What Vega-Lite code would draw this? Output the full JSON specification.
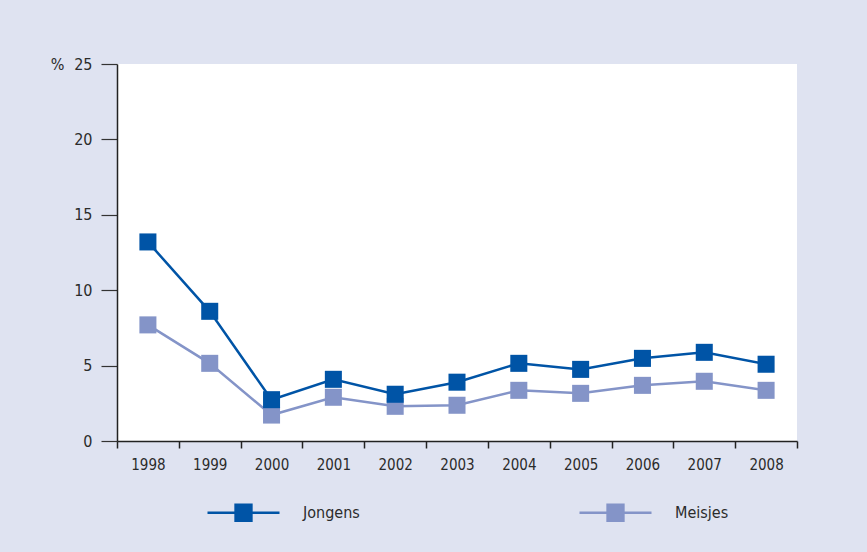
{
  "$schema": "https://vega.github.io/schema/vega-lite/v6.json",
  "width": 680,
  "height": 377,
  "autosize": {"type": "none"},
  "padding": {"left": 117, "top": 64, "right": 70, "bottom": 111},
  "background": "#dfe3f1",
  "config": {
    "view": {"fill": "white", "stroke": null},
    "font": "DejaVu Sans Condensed, Liberation Sans, sans-serif"
  },
  "data": {
    "values": [
      {"jaar": "1998", "groep": "Meisjes", "pct": 7.7},
      {"jaar": "1999", "groep": "Meisjes", "pct": 5.15},
      {"jaar": "2000", "groep": "Meisjes", "pct": 1.72},
      {"jaar": "2001", "groep": "Meisjes", "pct": 2.9},
      {"jaar": "2002", "groep": "Meisjes", "pct": 2.3},
      {"jaar": "2003", "groep": "Meisjes", "pct": 2.37},
      {"jaar": "2004", "groep": "Meisjes", "pct": 3.36},
      {"jaar": "2005", "groep": "Meisjes", "pct": 3.16},
      {"jaar": "2006", "groep": "Meisjes", "pct": 3.69},
      {"jaar": "2007", "groep": "Meisjes", "pct": 3.96},
      {"jaar": "2008", "groep": "Meisjes", "pct": 3.36},
      {"jaar": "1998", "groep": "Jongens", "pct": 13.2},
      {"jaar": "1999", "groep": "Jongens", "pct": 8.6},
      {"jaar": "2000", "groep": "Jongens", "pct": 2.74},
      {"jaar": "2001", "groep": "Jongens", "pct": 4.09},
      {"jaar": "2002", "groep": "Jongens", "pct": 3.1},
      {"jaar": "2003", "groep": "Jongens", "pct": 3.9},
      {"jaar": "2004", "groep": "Jongens", "pct": 5.15},
      {"jaar": "2005", "groep": "Jongens", "pct": 4.75},
      {"jaar": "2006", "groep": "Jongens", "pct": 5.48},
      {"jaar": "2007", "groep": "Jongens", "pct": 5.88},
      {"jaar": "2008", "groep": "Jongens", "pct": 5.09}
    ]
  },
  "encoding": {
    "x": {
      "field": "jaar",
      "type": "ordinal",
      "scale": {"type": "band", "paddingInner": 0, "paddingOuter": 0},
      "axis": {
        "title": null,
        "labelAngle": 0,
        "tickBand": "extent",
        "tickSize": 7,
        "tickColor": "#222",
        "domainColor": "#222",
        "domainWidth": 1.5,
        "tickWidth": 1.5,
        "labelPadding": 9,
        "labelFontSize": 15,
        "labelColor": "#2b2b2b"
      }
    },
    "y": {
      "field": "pct",
      "type": "quantitative",
      "scale": {"domain": [0, 25], "nice": false},
      "axis": {
        "values": [0, 5, 10, 15, 20, 25],
        "grid": false,
        "tickSize": 16,
        "tickColor": "#333",
        "tickWidth": 1.2,
        "domainColor": "#222",
        "domainWidth": 1.5,
        "labelPadding": 9,
        "labelFontSize": 16,
        "labelColor": "#2b2b2b",
        "title": "%",
        "titleAngle": 0,
        "titleX": -60,
        "titleY": 0,
        "titleAlign": "center",
        "titleBaseline": "middle",
        "titleFontSize": 16,
        "titleFontWeight": "normal",
        "titleColor": "#2b2b2b"
      }
    },
    "color": {
      "field": "groep",
      "type": "nominal",
      "sort": ["Jongens", "Meisjes"],
      "scale": {"domain": ["Jongens", "Meisjes"], "range": ["#0054a6", "#8494c8"]},
      "legend": {
        "title": null,
        "orient": "none",
        "legendX": 89,
        "legendY": 411,
        "direction": "horizontal",
        "columns": 2,
        "columnPadding": 214,
        "symbolType": "M-1,0H1M-0.22,-0.22H0.22V0.22H-0.22Z",
        "symbolSize": 5184,
        "symbolStrokeWidth": 2.5,
        "labelOffset": 22,
        "labelFontSize": 16,
        "labelColor": "#2b2b2b"
      }
    }
  },
  "layer": [
    {"mark": {"type": "line", "strokeWidth": 2.5}},
    {"mark": {"type": "point", "shape": "square", "filled": true, "opacity": 1, "size": 290}}
  ]
}
